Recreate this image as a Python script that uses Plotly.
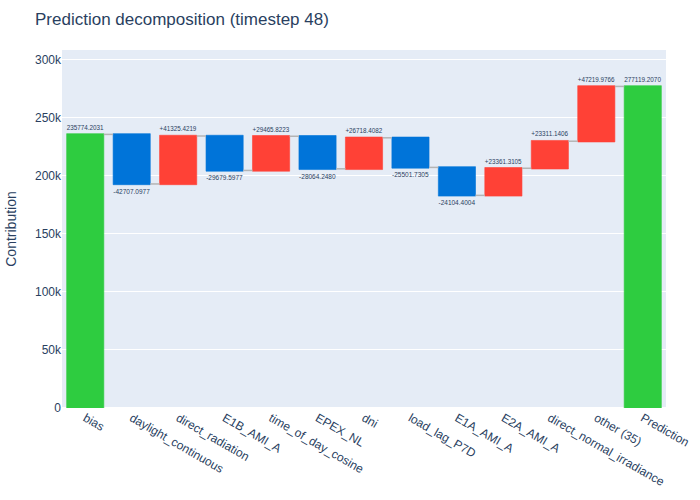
import plotly.graph_objects as go

categories = ["bias", "daylight_continuous", "direct_radiation", "E1B_AMI_A",
              "time_of_day_cosine", "EPEX_NL", "dni", "load_lag_P7D",
              "E1A_AMI_A", "E2A_AMI_A", "direct_normal_irradiance",
              "other (35)", "Prediction"]
values = [235774.2031, -42707.0977, 41325.4219, -29679.5977, 29465.8223,
          -28064.2480, 26718.4082, -25501.7305, -24104.4004, 23361.3105,
          23311.1406, 47219.9766, 277119.2070]
measures = ["absolute"] + ["relative"] * 11 + ["total"]
labels = ["235774.2031", "-42707.0977", "+41325.4219", "-29679.5977",
          "+29465.8223", "-28064.2480", "+26718.4082", "-25501.7305",
          "-24104.4004", "+23361.3105", "+23311.1406", "+47219.9766",
          "277119.2070"]

fig = go.Figure(go.Waterfall(
    x=categories, y=values, measure=measures,
    text=labels, textposition="outside",
    textfont=dict(size=6.5, color="#2a3f5f"),
    increasing=dict(marker=dict(color="#FF4136",
                                line=dict(color="rgba(255,65,54,0.6)", width=1))),
    decreasing=dict(marker=dict(color="#0074D9",
                                line=dict(color="rgba(0,116,217,0.6)", width=1))),
    totals=dict(marker=dict(color="#2ECC40",
                            line=dict(color="rgba(46,204,64,0.6)", width=1))),
    connector=dict(line=dict(color="rgb(180,180,180)", width=1.5)),
))
fig.update_layout(
    template="plotly",
    font=dict(family="Arial"),
    width=700, height=500,
    title=dict(text="Prediction decomposition (timestep 48)"),
    margin=dict(l=62, r=34, t=50, b=92),
    yaxis=dict(title=dict(text="Contribution"), range=[0, 308500], automargin=False),
    xaxis=dict(tickangle=30, automargin=False),
    showlegend=False,
)
fig.write_html("out.html")
